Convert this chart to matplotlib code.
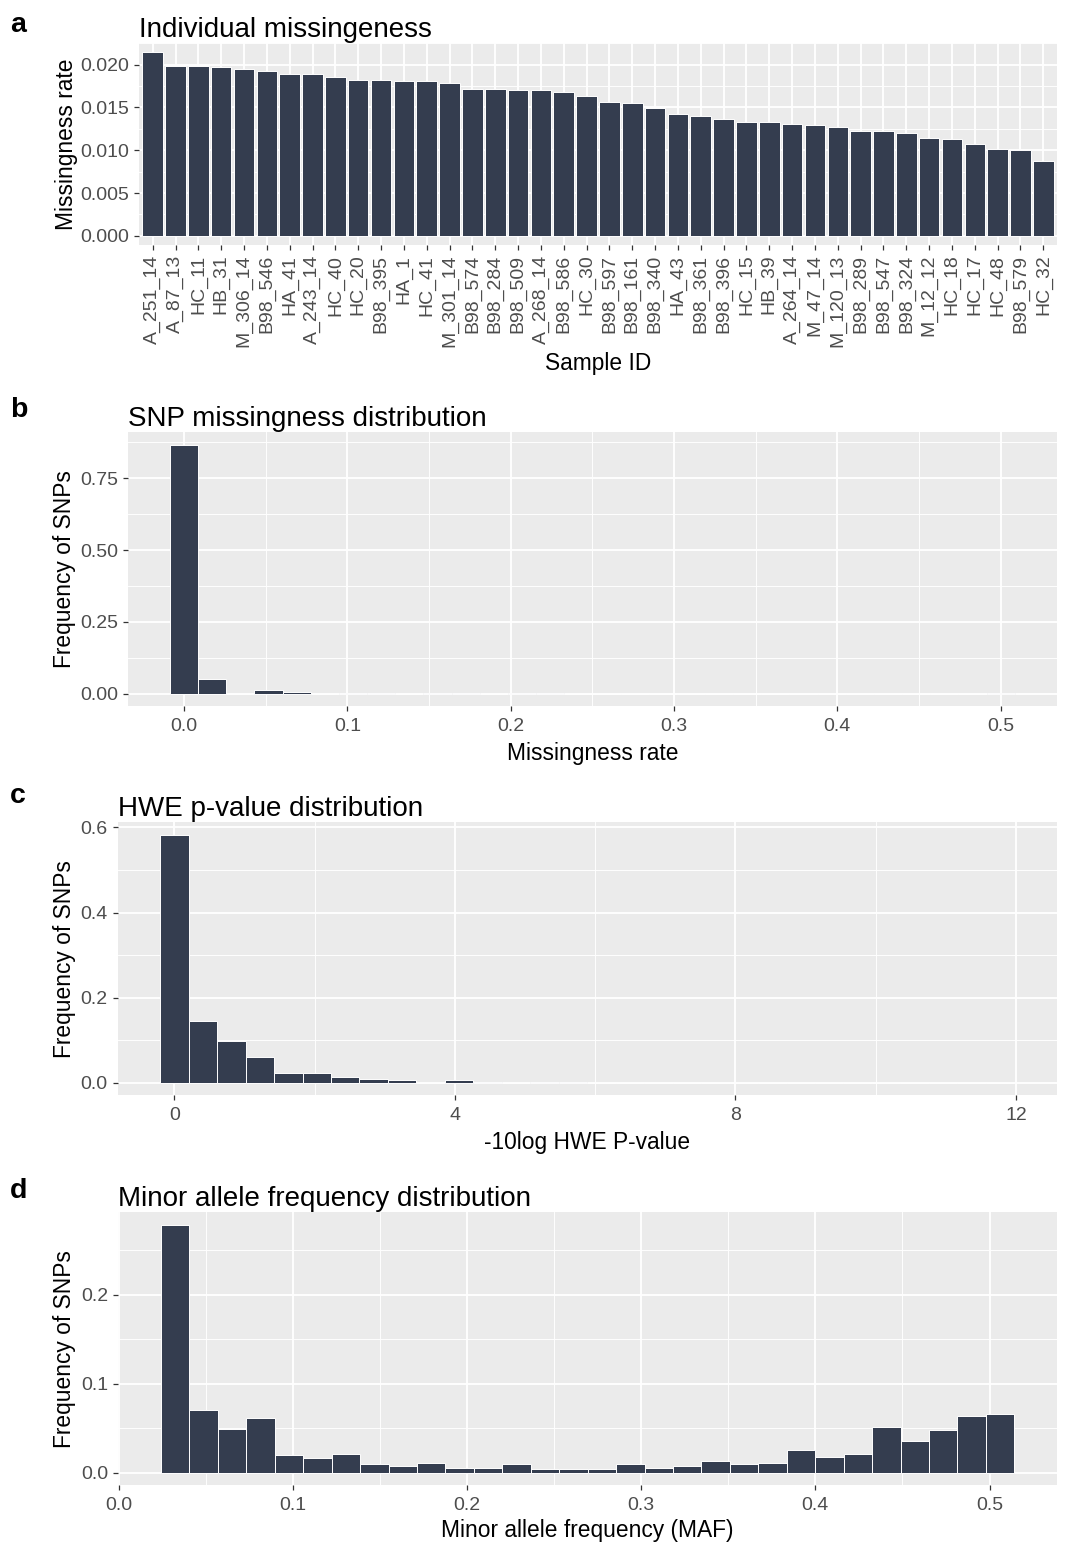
import numpy as np
import matplotlib
matplotlib.use("Agg")
import matplotlib.pyplot as plt
from matplotlib.ticker import MultipleLocator, FormatStrFormatter

plt.rcParams["font.family"] = ["Liberation Sans", "DejaVu Sans"]

# ---------------- data ----------------
sample_ids = ["A_251_14", "A_87_13", "HC_11", "HB_31", "M_306_14", "B98_546", "HA_41",
              "A_243_14", "HC_40", "HC_20", "B98_395", "HA_1", "HC_41", "M_301_14",
              "B98_574", "B98_284", "B98_509", "A_268_14", "B98_586", "HC_30", "B98_597",
              "B98_161", "B98_340", "HA_43", "B98_361", "B98_396", "HC_15", "HB_39",
              "A_264_14", "M_47_14", "M_120_13", "B98_289", "B98_547", "B98_324",
              "M_12_12", "HC_18", "HC_17", "HC_48", "B98_579", "HC_32"]
indiv_miss = [0.0215, 0.0199, 0.0199, 0.0197, 0.0195, 0.0193, 0.0189, 0.0189, 0.0186, 0.0182,
              0.0182, 0.0181, 0.0181, 0.0179, 0.0172, 0.0172, 0.0170, 0.0170, 0.0168, 0.0164,
              0.0157, 0.0155, 0.0149, 0.0142, 0.0140, 0.0136, 0.0133, 0.0133, 0.0131, 0.0129,
              0.0127, 0.0123, 0.0122, 0.0120, 0.0114, 0.0113, 0.0107, 0.0101, 0.0100, 0.0087]

# SNP missingness histogram (30 bins)
snp_bin_start = 0.0
snp_bin_width = 0.5 / 29
snp_miss_freq = [0.867, 0.050, 0.0, 0.012, 0.007, 0.0, 0.002, 0.002, 0.0, 0.002,
                 0.002, 0.0, 0.002, 0.002, 0.0, 0.0, 0.0, 0.0, 0.0, 0.0,
                 0.0, 0.0, 0.0, 0.0, 0.0, 0.0, 0.0, 0.0, 0.0, 0.002]

# HWE -log10 p histogram (30 bins)
hwe_bin_start = 0.0
hwe_bin_width = 0.406
hwe_freq = [0.583, 0.145, 0.097, 0.060, 0.0235, 0.0235, 0.0133, 0.0086, 0.0055, 0.0,
            0.0055, 0.0015, 0.0, 0.0015, 0.0015, 0.0, 0.0, 0.0, 0.0, 0.0,
            0.0, 0.0, 0.0, 0.0, 0.0, 0.0, 0.0, 0.0, 0.0, 0.0]

# MAF histogram (30 bins)
maf_bin_start = 0.0325
maf_bin_width = 0.01633
maf_freq = [0.279, 0.0708, 0.0493, 0.0618, 0.0196, 0.0162, 0.0215, 0.0094, 0.0072, 0.0105,
            0.0056, 0.0056, 0.0094, 0.0038, 0.0038, 0.0038, 0.0094, 0.0056, 0.0075, 0.0128,
            0.0094, 0.0109, 0.0252, 0.0177, 0.0215, 0.0512, 0.0354, 0.0482, 0.0637, 0.0655]

# ---------------- style ----------------
BAR = "#343D4F"
PANEL = "#EBEBEB"
TICK_TXT = "#4D4D4D"
W, H = 1065, 1546

fig = plt.figure(figsize=(W / 100, H / 100), dpi=100)


def px(x, y):
    return x / W, 1 - y / H


def add_panel(l, r, t, b):
    return fig.add_axes([l / W, 1 - b / H, (r - l) / W, (b - t) / H])


def style(ax):
    ax.set_facecolor(PANEL)
    for s in ax.spines.values():
        s.set_visible(False)
    ax.set_axisbelow(True)
    ax.grid(which="major", color="white", lw=1.3)
    ax.grid(which="minor", color="white", lw=0.65)
    ax.tick_params(which="major", length=3.6, width=0.9, color="#333333",
                   labelsize=14, labelcolor=TICK_TXT, pad=3.4)
    ax.tick_params(which="minor", length=0)


def histo(ax, start, bw, freq):
    centers = start + bw * np.arange(len(freq))
    ax.bar(centers, freq, width=bw, color=BAR, edgecolor="white", linewidth=0.7)
    lo, hi = centers[0] - bw / 2, centers[-1] + bw / 2
    ax.set_xlim(lo - 0.05 * (hi - lo), hi + 0.05 * (hi - lo))
    m = max(freq)
    ax.set_ylim(-0.05 * m, 1.05 * m)


def titles(ax, letter, title, xlab, ylab, xlab_y, ylab_x, panel_top, panel_bottom, title_base, letter_base):
    ax.set_title(title, loc="left", fontsize=20, pad=0)
    ax.title.set_y(1 + (panel_top - title_base) / (panel_bottom - panel_top))
    fig.text(*px(10, letter_base), letter, fontsize=20.5, fontweight="bold", va="baseline", ha="left")
    box = ax.get_position()
    cx = (box.x0 + box.x1) / 2
    fig.text(cx, 1 - xlab_y / H, xlab, fontsize=16.4, ha="center", va="baseline")
    cy = (box.y0 + box.y1) / 2
    fig.text(ylab_x / W, cy, ylab, fontsize=16.4, rotation=90, rotation_mode="anchor",
             ha="center", va="baseline")


# ---------------- a: individual missingness ----------------
ax_a = add_panel(139, 1057, 42.7, 245)
style(ax_a)
pos = np.arange(1, len(sample_ids) + 1)
ax_a.bar(pos, indiv_miss, width=0.9, color=BAR, edgecolor="white", linewidth=0.7)
ax_a.set_xlim(0.4, len(sample_ids) + 0.6)
ax_a.set_ylim(-0.05 * max(indiv_miss), 1.05 * max(indiv_miss))
ax_a.set_xticks(pos)
ax_a.set_xticklabels(sample_ids, rotation=90)
ax_a.yaxis.set_major_locator(MultipleLocator(0.005))
ax_a.yaxis.set_minor_locator(MultipleLocator(0.0025))
ax_a.yaxis.set_major_formatter(FormatStrFormatter("%.3f"))
titles(ax_a, "a", "Individual missingeness", "Sample ID", "Missingness rate",
       370, 73, 42.7, 245, 26.7, 32)

# ---------------- b: SNP missingness ----------------
ax_b = add_panel(127.7, 1057, 432.3, 706)
style(ax_b)
histo(ax_b, snp_bin_start, snp_bin_width, snp_miss_freq)
ax_b.xaxis.set_major_locator(MultipleLocator(0.1))
ax_b.xaxis.set_minor_locator(MultipleLocator(0.05))
ax_b.yaxis.set_major_locator(MultipleLocator(0.25))
ax_b.yaxis.set_minor_locator(MultipleLocator(0.125))
ax_b.xaxis.set_major_formatter(FormatStrFormatter("%.1f"))
ax_b.yaxis.set_major_formatter(FormatStrFormatter("%.2f"))
titles(ax_b, "b", "SNP missingness distribution", "Missingness rate", "Frequency of SNPs",
       760, 71, 432.3, 706, 416.7, 416.7)

# ---------------- c: HWE ----------------
ax_c = add_panel(117.5, 1057, 822.3, 1095)
style(ax_c)
histo(ax_c, hwe_bin_start, hwe_bin_width, hwe_freq)
ax_c.xaxis.set_major_locator(MultipleLocator(4))
ax_c.xaxis.set_minor_locator(MultipleLocator(2))
ax_c.yaxis.set_major_locator(MultipleLocator(0.2))
ax_c.yaxis.set_minor_locator(MultipleLocator(0.1))
ax_c.yaxis.set_major_formatter(FormatStrFormatter("%.1f"))
titles(ax_c, "c", "HWE p-value distribution", "-10log HWE P-value", "Frequency of SNPs",
       1149, 71, 822.3, 1095, 803.3, 803.3)

# ---------------- d: MAF ----------------
ax_d = add_panel(118.3, 1057, 1212.3, 1485)
style(ax_d)
histo(ax_d, maf_bin_start, maf_bin_width, maf_freq)
ax_d.xaxis.set_major_locator(MultipleLocator(0.1))
ax_d.xaxis.set_minor_locator(MultipleLocator(0.05))
ax_d.yaxis.set_major_locator(MultipleLocator(0.1))
ax_d.yaxis.set_minor_locator(MultipleLocator(0.05))
ax_d.xaxis.set_major_formatter(FormatStrFormatter("%.1f"))
ax_d.yaxis.set_major_formatter(FormatStrFormatter("%.1f"))
titles(ax_d, "d", "Minor allele frequency distribution", "Minor allele frequency (MAF)",
       "Frequency of SNPs", 1536.7, 71, 1212.3, 1485, 1196.7, 1198)

for ax in (ax_b, ax_c, ax_d):
    ax.tick_params(axis="x", which="major", pad=5.0)

fig.savefig("out.png", dpi=100)
